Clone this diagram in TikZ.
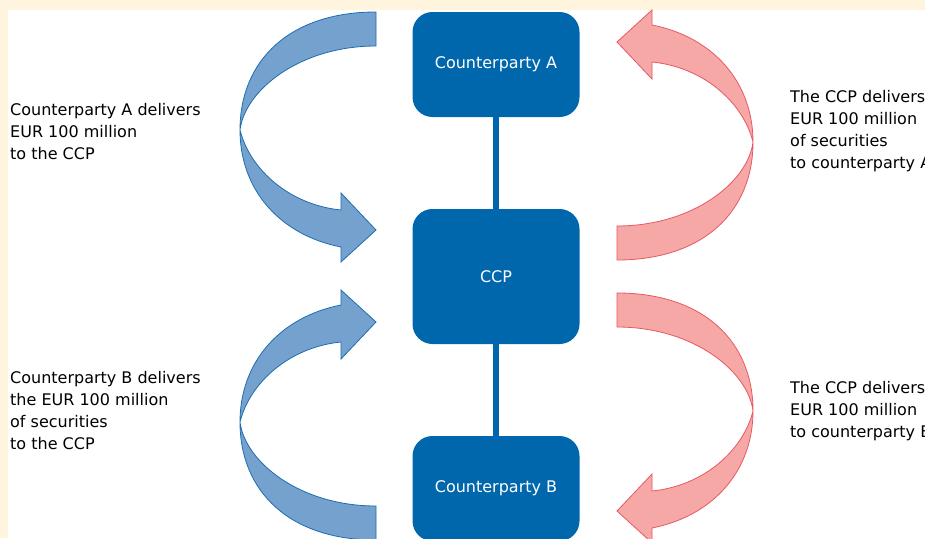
\documentclass[tikz,border=0pt]{standalone}
\usepackage{fontspec}
\setmainfont{DejaVu Sans}
\definecolor{boxblue}{RGB}{0,103,172}
\definecolor{flowblue}{RGB}{117,161,206}
\definecolor{flowblueline}{RGB}{30,110,175}
\definecolor{flowred}{RGB}{246,168,166}
\definecolor{flowredline}{RGB}{232,88,100}
\definecolor{cream}{RGB}{255,245,222}
\tikzset{
	flow/.pic={
		\path[#1] (136,-118) .. controls (50,-118) and (0,-70) .. (0,0)
			.. controls (0,60) and (40,105) .. (101,117) -- (101,132) -- (136,100)
			-- (101,63) -- (101,80) .. controls (50,75) and (10,40) .. (0,0)
			.. controls (5,-40) and (60,-84) .. (136,-84) -- cycle;
	},
}
\begin{document}
\begin{tikzpicture}[x=1pt, y=-1pt,
			party/.style={fill=boxblue, rounded corners=20pt, minimum width=167pt, inner sep=0pt, text=white, font=\fontsize{16}{22}\selectfont},
			note/.style={anchor=west, align=left, inner sep=0pt, font=\fontsize{16}{22}\selectfont},
			link/.style={draw=boxblue, line width=6pt},
			blueflow/.style={fill=flowblue, draw=flowblueline, line width=0.8pt},
			redflow/.style={fill=flowred, draw=flowredline, line width=0.8pt},
		]
		\clip (0,0) rectangle (925,538);
		\fill[cream] (0,0) rectangle (925,538);
		\fill[white] (8,10) rectangle (925,538);

		\pic at (240,130) {flow=blueflow};
		\pic[yscale=-1] at (240,422) {flow=blueflow};
		\pic[xscale=-1, yscale=-1] at (753,142) {flow=redflow};
		\pic[xscale=-1] at (753,411) {flow=redflow};

		\node[party, minimum height=105pt] (ctpA) at (496,64.5) {Counterparty A};
		\node[party, minimum height=135pt] (ccp) at (496,276.5) {CCP};
		\node[party, minimum height=105pt] (ctpB) at (496,488.5) {Counterparty B};

		\draw[link] (ctpA) -- (ccp);
		\draw[link] (ccp) -- (ctpB);

		\node[note] (payA) at (10,132) {Counterparty A delivers\\EUR 100 million\\to the CCP};
		\node[note] (secB) at (10,411) {Counterparty B delivers\\the EUR 100 million\\of securities\\to the CCP};
		\node[note] (secA) at (790,131) {The CCP delivers\\EUR 100 million\\of securities\\to counterparty A};
		\node[note] (payB) at (790,411) {The CCP delivers\\EUR 100 million\\to counterparty B};
	\end{tikzpicture}
\end{document}
